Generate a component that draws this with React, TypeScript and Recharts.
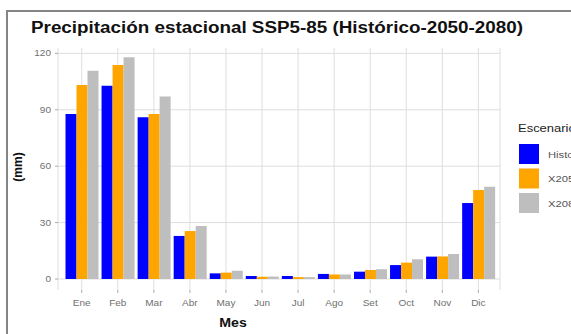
import React from 'react';
import { BarChart, Bar, XAxis, YAxis, CartesianGrid } from 'recharts';

const meses = ['Ene', 'Feb', 'Mar', 'Abr', 'May', 'Jun', 'Jul', 'Ago', 'Set', 'Oct', 'Nov', 'Dic'];
const historico = [87.8, 102.8, 86, 22.9, 3, 1.6, 1.6, 2.7, 3.9, 7.4, 11.9, 40.4];
const x2050 = [103.2, 113.8, 87.8, 25.5, 3.4, 1.2, 1.0, 2.4, 4.8, 8.7, 12, 47.3];
const x2080 = [110.8, 117.9, 97, 28.2, 4.4, 1.3, 1.0, 2.4, 5.2, 10.5, 13.3, 49];
const yTicks = [0, 30, 60, 90, 120];
const seriesNames = ['Historico', 'X2050', 'X2080'];
const seriesColors = ['#0000FF', '#FFA500', '#BEBEBE'];
const titulo = 'Precipitación estacional SSP5-85 (Histórico-2050-2080)';
const leyendaTitulo = 'Escenario';

const data = meses.map((m, i) => ({
  mes: m,
  Historico: historico[i],
  X2050: x2050[i],
  X2080: x2080[i],
}));

const font = 'Arial, "Liberation Sans", sans-serif';
const SX = 1.18;

const XTick = (props: any) => {
  const { x, y, payload } = props;
  return (
    <text transform={`translate(${x},${y + 7}) scale(${SX},1)`} textAnchor="middle" fontSize={8.5} fill="#707070" fontFamily={font}>
      {payload.value}
    </text>
  );
};

const YTick = (props: any) => {
  const { x, y, payload } = props;
  return (
    <text transform={`translate(${x},${y + 3}) scale(${SX},1)`} textAnchor="end" fontSize={8.5} fill="#707070" fontFamily={font}>
      {payload.value}
    </text>
  );
};

export default function App() {
  return (
    <div style={{ position: 'absolute', left: 0, top: 0, width: 571, height: 334, overflow: 'hidden', background: '#fff', fontFamily: font }}>
      <div style={{ position: 'absolute', left: 6, top: 10, width: 700, height: 500, borderLeft: '2px solid #858585', borderTop: '2px solid #858585' }} />
      <div style={{ position: 'absolute', left: 0, top: 0 }}>
        <BarChart
          width={571}
          height={334}
          data={data}
          margin={{ top: 48, right: 71, bottom: 14, left: 0 }}
          barCategoryGap="5%"
          barGap={0}
        >
          <CartesianGrid stroke="#dedede" strokeWidth={1} horizontalValues={yTicks} />
          <XAxis
            dataKey="mes"
            height={30}
            axisLine={false}
            tickSize={3}
            tickMargin={6}
            tickLine={{ stroke: '#aaaaaa' }}
            tick={<XTick />}
            padding={{ left: 5.7, right: 3.6 }}
            interval={0}
          />
          <YAxis
            width={58}
            domain={[-5.85, 122.85]}
            ticks={yTicks}
            allowDataOverflow
            axisLine={false}
            tickSize={3}
            tickMargin={4}
            tickLine={{ stroke: '#aaaaaa' }}
            tick={<YTick />}
          />
          {seriesNames.map((s, i) => (
            <Bar key={s} dataKey={s} fill={seriesColors[i]} isAnimationActive={false} />
          ))}
        </BarChart>
      </div>
      <svg width={571} height={334} style={{ position: 'absolute', left: 0, top: 0, pointerEvents: 'none' }}>
        <text x={31} y={33} fontSize={16} fontWeight="bold" fill="#111" fontFamily={font} textLength={492} lengthAdjust="spacingAndGlyphs">{titulo}</text>
        <text x={0} y={0} transform="translate(22,167) rotate(-90)" textAnchor="middle" fontSize={12} fontWeight="bold" fill="#111" fontFamily={font}>(mm)</text>
        <text transform={`translate(233,327) scale(${SX},1)`} textAnchor="middle" fontSize={12} fontWeight="bold" fill="#111" fontFamily={font}>Mes</text>
        <text transform={`translate(518,132) scale(${SX},1)`} fontSize={11} fill="#222" fontFamily={font}>{leyendaTitulo}</text>
        {seriesNames.map((s, i) => (
          <g key={s}>
            <rect x={519} y={144 + i * 24.5} width={20} height={20} fill={seriesColors[i]} />
            <text transform={`translate(548,157.5) translate(0,${i * 24.5}) scale(${SX},1)`} fontSize={9.5} fill="#555" fontFamily={font}>{s}</text>
          </g>
        ))}
      </svg>
    </div>
  );
}
